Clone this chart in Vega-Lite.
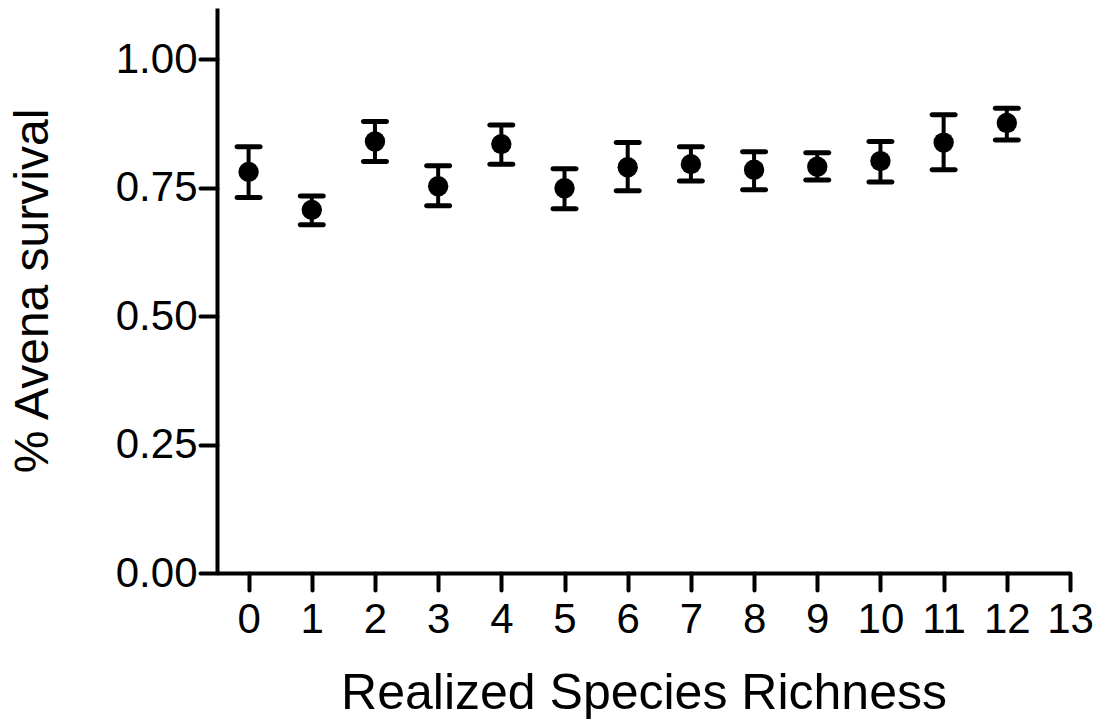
{
  "$schema": "https://vega.github.io/schema/vega-lite/v6.json",
  "autosize": "none",
  "width": 853,
  "height": 565,
  "padding": {"left": 217, "top": 8, "right": 35, "bottom": 148},
  "background": "white",
  "config": {
    "view": {"stroke": null},
    "font": "Liberation Sans",
    "axis": {
      "domainColor": "black",
      "domainWidth": 4,
      "tickColor": "black",
      "tickWidth": 4,
      "tickSize": 17,
      "tickCap": "round",
      "grid": false,
      "labelColor": "black",
      "labelFont": "Liberation Sans",
      "labelFontSize": 42,
      "labelOverlap": false,
      "labelFlush": false,
      "titleColor": "black",
      "titleFont": "Liberation Sans",
      "titleFontWeight": "normal"
    }
  },
  "data": {
    "values": [
      {"richness": 0, "mean": 0.781, "lower": 0.731, "upper": 0.830},
      {"richness": 1, "mean": 0.707, "lower": 0.678, "upper": 0.734},
      {"richness": 2, "mean": 0.840, "lower": 0.801, "upper": 0.879},
      {"richness": 3, "mean": 0.753, "lower": 0.715, "upper": 0.793},
      {"richness": 4, "mean": 0.835, "lower": 0.796, "upper": 0.872},
      {"richness": 5, "mean": 0.749, "lower": 0.709, "upper": 0.787},
      {"richness": 6, "mean": 0.790, "lower": 0.744, "upper": 0.838},
      {"richness": 7, "mean": 0.796, "lower": 0.763, "upper": 0.830},
      {"richness": 8, "mean": 0.785, "lower": 0.746, "upper": 0.820},
      {"richness": 9, "mean": 0.791, "lower": 0.765, "upper": 0.818},
      {"richness": 10, "mean": 0.802, "lower": 0.761, "upper": 0.840},
      {"richness": 11, "mean": 0.838, "lower": 0.785, "upper": 0.892},
      {"richness": 12, "mean": 0.876, "lower": 0.843, "upper": 0.905}
    ]
  },
  "layer": [
    {
      "mark": {"type": "rule", "color": "black", "strokeWidth": 4},
      "encoding": {
        "x": {
          "field": "richness",
          "type": "quantitative",
          "scale": {"domain": [-0.5, 13], "nice": false, "zero": false},
          "axis": {
            "values": [0, 1, 2, 3, 4, 5, 6, 7, 8, 9, 10, 11, 12, 13],
            "format": "d",
            "labelPadding": 9,
            "title": "Realized Species Richness",
            "titleFontSize": 50,
            "titlePadding": 28
          }
        },
        "y": {
          "field": "lower",
          "type": "quantitative",
          "scale": {"domain": [0, 1.1], "nice": false},
          "axis": {
            "values": [0, 0.25, 0.5, 0.75, 1.0],
            "format": ".2f",
            "labelPadding": 3,
            "title": "% Avena survival",
            "titleFontSize": 48,
            "titlePadding": 58
          }
        },
        "y2": {"field": "upper"}
      }
    },
    {
      "mark": {"type": "tick", "orient": "horizontal", "color": "black", "size": 28, "thickness": 5, "cornerRadius": 2.5, "opacity": 1},
      "encoding": {
        "x": {"field": "richness", "type": "quantitative"},
        "y": {"field": "upper", "type": "quantitative"}
      }
    },
    {
      "mark": {"type": "tick", "orient": "horizontal", "color": "black", "size": 28, "thickness": 5, "cornerRadius": 2.5, "opacity": 1},
      "encoding": {
        "x": {"field": "richness", "type": "quantitative"},
        "y": {"field": "lower", "type": "quantitative"}
      }
    },
    {
      "mark": {"type": "circle", "color": "black", "size": 415, "opacity": 1},
      "encoding": {
        "x": {"field": "richness", "type": "quantitative"},
        "y": {"field": "mean", "type": "quantitative"}
      }
    }
  ]
}
